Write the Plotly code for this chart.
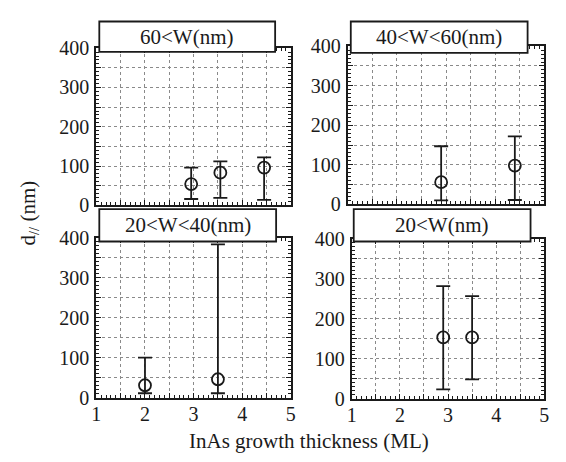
import plotly.graph_objects as go

# ---- data ----
panel_titles = ["60&lt;W(nm)", "40&lt;W&lt;60(nm)", "20&lt;W&lt;40(nm)", "20&lt;W(nm)"]

tl_x = [2.95, 3.55, 4.45]
tl_y = [54, 83, 96]
tl_hi = [96, 112, 122]
tl_lo = [16, 19, 14]

tr_x = [2.9, 4.4]
tr_y = [56, 98]
tr_hi = [147, 172]
tr_lo = [10, 11]

bl_x = [2.0, 3.5]
bl_y = [31, 46]
bl_hi = [100, 383]
bl_lo = [11, 11]

br_x = [2.9, 3.5]
br_y = [153, 153]
br_hi = [281, 256]
br_lo = [23, 48]

x_range = [1, 5]
y_range = [0, 400]

W, H = 566, 462
FONT = "Liberation Serif"
INK = "#1a1a1a"
GRID = "#8a8a8a"

# panel pixel boxes: (left, right, top, bottom)
boxes = [
    (93, 291, 39, 204),
    (349, 549, 37, 203),
    (93, 291, 238, 406),
    (353, 549, 239, 407),
]
title_boxes = [
    (96, 275, 11, 43),
    (352, 532, 11, 44),
    (96, 276, 208, 242),
    (355, 535, 208, 242),
]

series = [
    (tl_x, tl_y, tl_hi, tl_lo),
    (tr_x, tr_y, tr_hi, tr_lo),
    (bl_x, bl_y, bl_hi, bl_lo),
    (br_x, br_y, br_hi, br_lo),
]

fig = go.Figure()
layout = {}
for i, ((xs, ys, hi, lo), (l, r, t, b)) in enumerate(zip(series, boxes)):
    n = "" if i == 0 else str(i + 1)
    m = str(i + 5)  # overlay axes for the dense frame ticks
    xd = [l / W, r / W]
    yd = [1 - b / H, 1 - t / H]

    fig.add_trace(go.Scatter(x=[None], y=[None], xaxis="x" + m, yaxis="y" + m,
                             mode="markers", showlegend=False, hoverinfo="skip"))
    fig.add_trace(go.Scatter(
        x=xs, y=ys, mode="markers",
        xaxis="x" + n, yaxis="y" + n,
        marker=dict(symbol="circle-open", size=12, color=INK, line=dict(width=1.8, color=INK)),
        error_y=dict(type="data", symmetric=False,
                     array=[h - v for h, v in zip(hi, ys)],
                     arrayminus=[v - q for v, q in zip(ys, lo)],
                     color=INK, thickness=1.8, width=7),
        showlegend=False,
    ))
    bottom_row = i >= 2
    layout["xaxis" + n] = dict(
        domain=xd, anchor="y" + n, range=x_range, dtick=1, tick0=1,
        showticklabels=bottom_row, ticklabelstandoff=-3,
        ticks="inside", ticklen=5, tickwidth=1.2, tickcolor=INK,
        minor=dict(dtick=0.5, tick0=1, ticks="inside", ticklen=5, tickwidth=1.2, tickcolor=INK,
                   showgrid=True, gridcolor=GRID, griddash="dot", gridwidth=1),
        showline=True, linewidth=2, linecolor=INK, mirror="allticks",
        showgrid=True, gridcolor=GRID, griddash="dot", gridwidth=1,
        zeroline=False, fixedrange=True,
        tickfont=dict(family=FONT, size=20, color=INK),
    )
    layout["yaxis" + n] = dict(
        domain=yd, anchor="x" + n, range=y_range, dtick=100, tick0=0,
        ticks="inside", ticklen=5, tickwidth=1.2, tickcolor=INK,
        minor=dict(dtick=50, tick0=0, ticks="inside", ticklen=5, tickwidth=1.2, tickcolor=INK,
                   showgrid=True, gridcolor=GRID, griddash="dot", gridwidth=1),
        showline=True, linewidth=2, linecolor=INK, mirror="allticks",
        showgrid=True, gridcolor=GRID, griddash="dot", gridwidth=1,
        zeroline=False, fixedrange=True, ticklabelstandoff=1,
        tickfont=dict(family=FONT, size=20, color=INK),
    )
    layout["xaxis" + m] = dict(
        domain=xd, anchor="y" + n, overlaying="x" + n, range=x_range, dtick=0.1, tick0=1,
        showticklabels=False, ticks="inside", ticklen=3, tickwidth=1, tickcolor=INK,
        showline=True, linewidth=2, linecolor=INK, mirror="allticks",
        showgrid=False, zeroline=False, fixedrange=True,
    )
    layout["yaxis" + m] = dict(
        domain=yd, anchor="x" + n, overlaying="y" + n, range=y_range, dtick=10, tick0=0,
        showticklabels=False, ticks="inside", ticklen=3, tickwidth=1, tickcolor=INK,
        showline=True, linewidth=2, linecolor=INK, mirror="allticks",
        showgrid=False, zeroline=False, fixedrange=True,
    )

shapes = []
annotations = []
for (l, r, t, b), txt in zip(title_boxes, panel_titles):
    shapes.append(dict(type="rect", xref="paper", yref="paper",
                       x0=l / W, x1=r / W, y0=1 - b / H, y1=1 - t / H,
                       fillcolor="white", line=dict(color=INK, width=1.8), layer="above"))
    annotations.append(dict(text=txt, xref="paper", yref="paper",
                            x=(l + r) / 2 / W, y=1 - (t + b) / 2 / H,
                            xanchor="center", yanchor="middle", showarrow=False,
                            font=dict(family=FONT, size=21, color=INK)))

annotations.append(dict(text="InAs growth thickness (ML)", xref="paper", yref="paper",
                        x=309 / W, y=1 - 451 / H, xanchor="center", yanchor="middle",
                        showarrow=False, borderpad=0,
                        font=dict(family=FONT, size=21, color=INK)))
annotations.append(dict(text="d<sub>//</sub> (nm)", xref="paper", yref="paper",
                        x=24 / W, y=1 - 212 / H, xanchor="center", yanchor="middle",
                        textangle=-90, showarrow=False, font=dict(family=FONT, size=21, color=INK)))

fig.update_layout(
    width=W, height=H, margin=dict(l=0, r=0, t=0, b=0),
    paper_bgcolor="white", plot_bgcolor="white",
    shapes=shapes, annotations=annotations, **layout,
)

fig.write_html("out.html", config={"displayModeBar": False},
               post_script="document.body.style.margin='0';document.body.style.overflow='hidden';")
